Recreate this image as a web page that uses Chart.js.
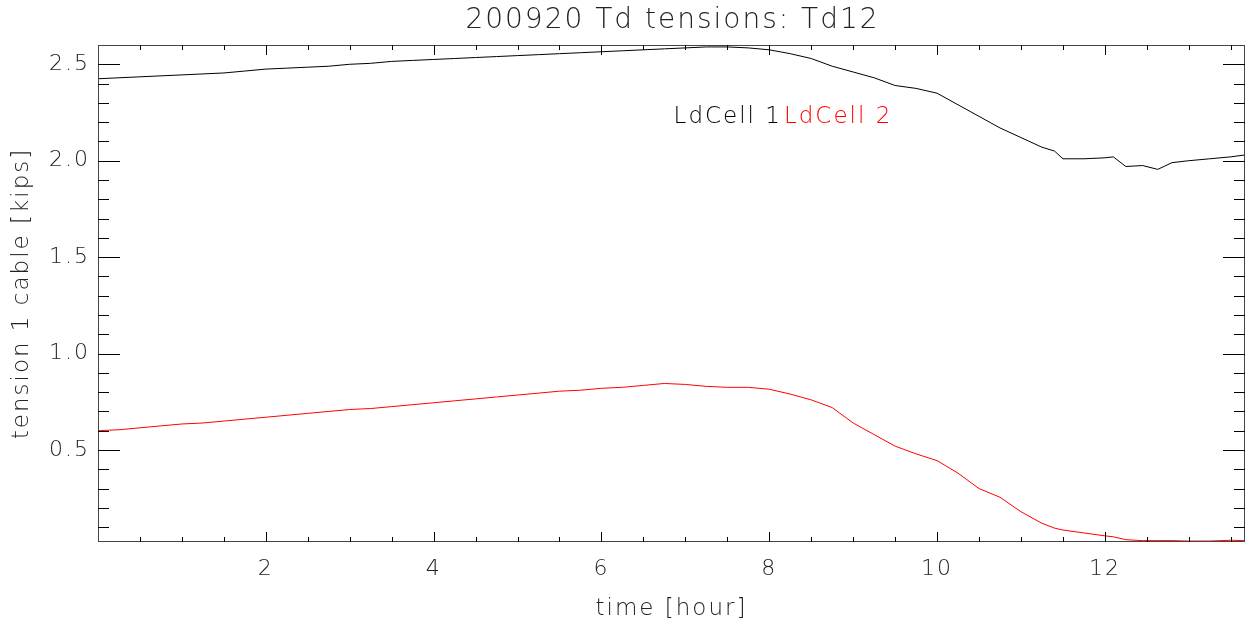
<!DOCTYPE html>
<html>
<head>
<meta charset="utf-8">
<script src="https://cdn.jsdelivr.net/npm/chart.js@4"></script>
<style>
  html, body { margin: 0; padding: 0; background: #fff; }
  #wrap { width: 1255px; height: 623px; }
</style>
</head>
<body>
<div id="wrap"><canvas id="tensionCanvas" width="1255" height="623"></canvas></div>
<script>
// time in hours
const hours = [0, 0.25, 0.5, 0.75, 1.0, 1.25, 1.5, 1.75, 2.0, 2.25, 2.5, 2.75, 3.0, 3.25, 3.5, 3.75,
    4.0, 4.25, 4.5, 4.75, 5.0, 5.25, 5.5, 5.75, 6.0, 6.25, 6.5, 6.75, 7.0, 7.25, 7.5, 7.75,
    8.0, 8.25, 8.5, 8.75, 9.0, 9.25, 9.5, 9.75, 10.0, 10.25, 10.5, 10.75, 11.0, 11.25, 11.4, 11.5, 11.75,
    12.0, 12.1, 12.25, 12.45, 12.63, 12.8, 13.0, 13.25, 13.5, 13.67];
const ldCell1 = [2.425, 2.43, 2.435, 2.44, 2.445, 2.45, 2.455, 2.465, 2.475, 2.48, 2.485, 2.49, 2.50, 2.505, 2.515, 2.52,
    2.525, 2.53, 2.535, 2.54, 2.545, 2.55, 2.555, 2.56, 2.565, 2.57, 2.575, 2.58, 2.585, 2.59, 2.59, 2.585,
    2.575, 2.555, 2.53, 2.49, 2.46, 2.43, 2.39, 2.375, 2.35, 2.29, 2.23, 2.17, 2.12, 2.07, 2.05, 2.01, 2.01,
    2.015, 2.02, 1.97, 1.975, 1.955, 1.99, 2.0, 2.01, 2.02, 2.03];
const ldCell2 = [0.60, 0.605, 0.615, 0.625, 0.635, 0.64, 0.65, 0.66, 0.67, 0.68, 0.69, 0.70, 0.71, 0.715, 0.725, 0.735,
    0.745, 0.755, 0.765, 0.775, 0.785, 0.795, 0.805, 0.81, 0.82, 0.825, 0.835, 0.845, 0.84, 0.83, 0.825, 0.825,
    0.815, 0.79, 0.76, 0.72, 0.64, 0.58, 0.52, 0.48, 0.445, 0.38, 0.30, 0.255, 0.18, 0.12, 0.095, 0.085, 0.07,
    0.055, 0.05, 0.035, 0.03, 0.03, 0.03, 0.028, 0.028, 0.032, 0.03];
const xTicks = [2, 4, 6, 8, 10, 12];
const yTicks = [0.5, 1.0, 1.5, 2.0, 2.5];
const seriesNames = ['LdCell 1', 'LdCell 2'];
const seriesColors = ['#000000', '#ff0000'];

const FONT = '"DejaVu Sans", sans-serif';
const TEXT = '#222';

// wide letter spacing, like the IDL vector font
const spacing = {
    id: 'spacing',
    beforeDraw(chart) { chart.ctx.letterSpacing = '2px'; }
};

// IDL-style box with inward ticks on all four sides, title and legend text
const idlFrame = {
    id: 'idlFrame',
    afterDraw(chart) {
        const c = chart.ctx, a = chart.chartArea;
        const xs = chart.scales.x, ys = chart.scales.y;
        c.save();
        c.strokeStyle = '#444';
        c.lineWidth = 1;
        c.strokeRect(a.left + 0.5, a.top + 0.5, a.right - a.left - 1, a.bottom - a.top - 1);
        c.strokeStyle = '#000';
        c.beginPath();
        for (let i = 1; i <= 27; i++) {
            const v = i * 0.5;
            if (v > xs.max) break;
            const len = (i % 4 === 0) ? 10 : 5;
            const px = Math.round(xs.getPixelForValue(v)) + 0.5;
            c.moveTo(px, a.bottom); c.lineTo(px, a.bottom - len);
            c.moveTo(px, a.top); c.lineTo(px, a.top + len);
        }
        for (let i = 1; i <= 25; i++) {
            const v = i * 0.1;
            if (v < ys.min || v > ys.max) continue;
            const len = (i % 5 === 0) ? 22 : 11;
            const py = Math.round(ys.getPixelForValue(v)) + 0.5;
            c.moveTo(a.left, py); c.lineTo(a.left + len, py);
            c.moveTo(a.right, py); c.lineTo(a.right - len, py);
        }
        c.stroke();

        c.letterSpacing = '2px';
        c.fillStyle = TEXT;
        c.font = '200 28px ' + FONT;
        c.textAlign = 'center';
        c.textBaseline = 'middle';
        c.fillText('200920 Td tensions: Td12', (a.left + a.right) / 2 + 1, 21);

        c.font = '200 23px ' + FONT;
        c.textAlign = 'left';
        let lx = xs.getPixelForValue(6.86);
        const ly = ys.getPixelForValue(2.225);
        seriesNames.forEach((name, i) => {
            c.fillStyle = seriesColors[i];
            c.fillText(name, lx, ly);
            lx += c.measureText(name).width + 2;
        });
        c.restore();
    }
};

const ctxTension = document.getElementById('tensionCanvas').getContext('2d');
const tensionChart = new Chart(ctxTension, {
    type: 'line',
    data: {
        datasets: [
            {
                label: seriesNames[0],
                data: hours.map((h, i) => ({ x: h, y: ldCell1[i] })),
                borderColor: seriesColors[0],
                borderWidth: 1,
                pointRadius: 0,
                tension: 0
            },
            {
                label: seriesNames[1],
                data: hours.map((h, i) => ({ x: h, y: ldCell2[i] })),
                borderColor: seriesColors[1],
                borderWidth: 1,
                pointRadius: 0,
                tension: 0
            }
        ]
    },
    options: {
        responsive: false,
        animation: false,
        layout: { padding: { top: 45, right: 10, left: 0, bottom: 0 } },
        plugins: {
            legend: { display: false },
            tooltip: { enabled: false }
        },
        scales: {
            x: {
                type: 'linear',
                min: 0,
                max: 13.67,
                afterBuildTicks: s => { s.ticks = xTicks.map(v => ({ value: v })); },
                afterFit: s => { s.height = 81; },
                grid: { display: false, drawTicks: false },
                border: { display: false },
                ticks: {
                    padding: 14,
                    color: TEXT,
                    font: { family: FONT, size: 22, weight: 200 },
                    maxRotation: 0,
                    callback: v => String(v)
                },
                title: {
                    display: true,
                    text: 'time [hour]',
                    color: TEXT,
                    font: { family: FONT, size: 23, weight: 200 },
                    padding: { top: 2, bottom: 0 }
                }
            },
            y: {
                type: 'linear',
                min: 0.023,
                max: 2.6,
                afterBuildTicks: s => { s.ticks = yTicks.map(v => ({ value: v })); },
                afterFit: s => { s.width = 98; },
                grid: { display: false, drawTicks: false },
                border: { display: false },
                ticks: {
                    padding: 8,
                    color: TEXT,
                    font: { family: FONT, size: 22, weight: 200 },
                    callback: v => Number(v).toFixed(1)
                },
                title: {
                    display: true,
                    text: 'tension 1 cable [kips]',
                    color: TEXT,
                    font: { family: FONT, size: 23, weight: 200 },
                    padding: { top: 8, bottom: 0 }
                }
            }
        }
    },
    plugins: [spacing, idlFrame]
});
</script>
</body>
</html>
